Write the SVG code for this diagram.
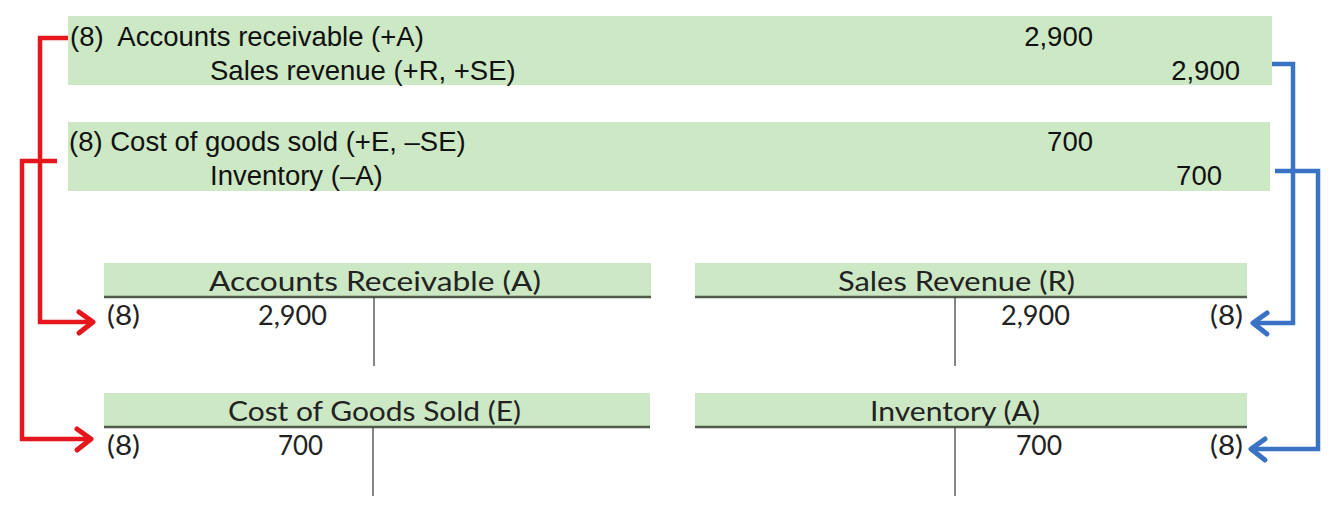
<svg xmlns="http://www.w3.org/2000/svg" width="1334" height="508" viewBox="0 0 1334 508">
<style>
.jbox{fill:#cde8c4}
.jt{font-family:"Liberation Sans",Arial,sans-serif;font-size:27.5px;fill:#111}
.tt{font-family:Lato,"Noto Sans",sans-serif;font-size:26px;fill:#222}
.hdr{fill:#cde8c4}
.hl{stroke:#4f5a4a;stroke-width:2.5}
.vl{stroke:#444;stroke-width:1.3}
.red{fill:none;stroke:#e5161c;stroke-width:4.5;stroke-linejoin:miter}
.blue{fill:none;stroke:#3a72c4;stroke-width:4.5;stroke-linejoin:miter}
.rh{fill:none;stroke:#e5161c;stroke-width:5;stroke-linecap:round;stroke-linejoin:round}
.bh{fill:none;stroke:#3a72c4;stroke-width:5;stroke-linecap:round;stroke-linejoin:round}
</style>
<g id="journal1">
<rect class="jbox" x="68" y="16" width="1204" height="69"/>
<text class="jt" x="70" y="46" xml:space="preserve">(8)  Accounts receivable (+A)</text>
<text class="jt" x="210" y="80">Sales revenue (+R, +SE)</text>
<text class="jt" x="1093" y="46" text-anchor="end">2,900</text>
<text class="jt" x="1240" y="80" text-anchor="end">2,900</text>
</g>
<g id="journal2">
<rect class="jbox" x="68" y="122" width="1202" height="69"/>
<text class="jt" x="69" y="151">(8) Cost of goods sold (+E, –SE)</text>
<text class="jt" x="210" y="185">Inventory (–A)</text>
<text class="jt" x="1093" y="151" text-anchor="end">700</text>
<text class="jt" x="1222" y="185" text-anchor="end">700</text>
</g>
<g id="t-ar">
<rect class="hdr" x="104" y="263" width="547" height="34"/>
<line class="hl" x1="104" y1="297" x2="651" y2="297"/>
<line class="vl" x1="374" y1="297" x2="374" y2="366"/>
<text class="tt" x="209" y="291" textLength="332" lengthAdjust="spacingAndGlyphs">Accounts Receivable (A)</text>
<text class="tt" x="107" y="325" textLength="33" lengthAdjust="spacingAndGlyphs">(8)</text>
<text class="tt" x="258" y="325" textLength="69" lengthAdjust="spacingAndGlyphs">2,900</text>
</g>
<g id="t-sr">
<rect class="hdr" x="695" y="263" width="552" height="34"/>
<line class="hl" x1="695" y1="297" x2="1247" y2="297"/>
<line class="vl" x1="955" y1="297" x2="955" y2="366"/>
<text class="tt" x="838" y="291" textLength="237" lengthAdjust="spacingAndGlyphs">Sales Revenue (R)</text>
<text class="tt" x="1001" y="325" textLength="69" lengthAdjust="spacingAndGlyphs">2,900</text>
<text class="tt" x="1210" y="325" textLength="33" lengthAdjust="spacingAndGlyphs">(8)</text>
</g>
<g id="t-cogs">
<rect class="hdr" x="104" y="393" width="546" height="34"/>
<line class="hl" x1="104" y1="427" x2="650" y2="427"/>
<line class="vl" x1="373" y1="427" x2="373" y2="496"/>
<text class="tt" x="228" y="421" textLength="293" lengthAdjust="spacingAndGlyphs">Cost of Goods Sold (E)</text>
<text class="tt" x="107" y="455" textLength="33" lengthAdjust="spacingAndGlyphs">(8)</text>
<text class="tt" x="278" y="455" textLength="45" lengthAdjust="spacingAndGlyphs">700</text>
</g>
<g id="t-inv">
<rect class="hdr" x="695" y="393" width="552" height="34"/>
<line class="hl" x1="695" y1="427" x2="1247" y2="427"/>
<line class="vl" x1="955" y1="427" x2="955" y2="496"/>
<text class="tt" x="870" y="421" textLength="170" lengthAdjust="spacingAndGlyphs">Inventory (A)</text>
<text class="tt" x="1016" y="455" textLength="46" lengthAdjust="spacingAndGlyphs">700</text>
<text class="tt" x="1210" y="455" textLength="33" lengthAdjust="spacingAndGlyphs">(8)</text>
</g>
<g id="connectors">
<polyline class="red" points="68,38 40,38 40,322 92,322"/>
<polyline class="rh" points="79,312 93,322 79,333"/>
<polyline class="red" points="57,161 22,161 22,439 90,439"/>
<polyline class="rh" points="77,429 91,439 77,450"/>
<polyline class="blue" points="1272,64 1293,64 1293,323 1254,323"/>
<polyline class="bh" points="1267,313 1253,323 1267,334"/>
<polyline class="blue" points="1275,171 1318,171 1318,449 1252,449"/>
<polyline class="bh" points="1265,439 1251,449 1265,460"/>
</g>
</svg>
